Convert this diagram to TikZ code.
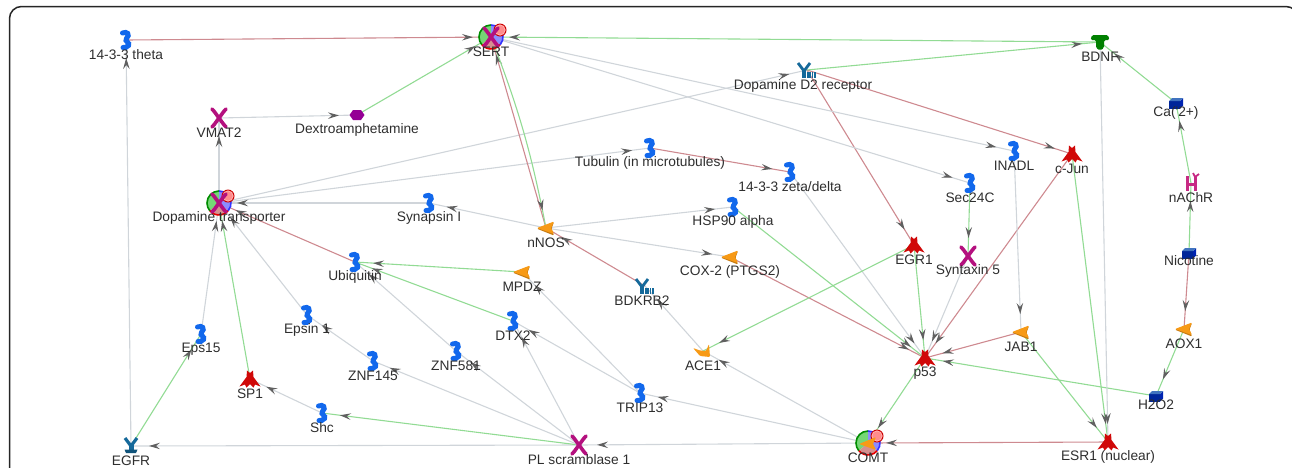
\documentclass[tikz,border=0pt]{standalone}
\usepackage{fontspec}
\setmainfont{Liberation Sans}
\usetikzlibrary{arrows.meta}
\usetikzlibrary{backgrounds}
\usetikzlibrary{decorations.markings}

\definecolor{protblue}{HTML}{1268EC}
\definecolor{tfred}{HTML}{D00808}
\definecolor{enzorange}{HTML}{F79A16}
\definecolor{transmag}{HTML}{B4107E}
\definecolor{receptal}{HTML}{15699A}
\definecolor{linegrey}{HTML}{D0D5DA}
\definecolor{linegreen}{HTML}{92DB94}
\definecolor{linered}{HTML}{CE8A90}
\definecolor{tipgrey}{HTML}{606060}

\newcommand{\compbase}{
    \fill[green!55!gray!70] (0,0) -- (270:12) arc[start angle=270, end angle=140, radius=12] -- cycle;
    \fill[red!45!gray!60] (0,0) -- (140:12) arc[start angle=140, end angle=40, radius=12] -- cycle;
    \fill[blue!45!white] (0,0) -- (40:12) arc[start angle=40, end angle=-90, radius=12] -- cycle;
    \draw[green!55!black, line width=1.6] (270:12) arc[start angle=270, end angle=140, radius=12];
    \draw[red!90!black, line width=1.6] (140:12) arc[start angle=140, end angle=40, radius=12];
    \draw[blue!80!white, line width=1.6] (40:12) arc[start angle=40, end angle=-90, radius=12];
}
\newcommand{\pinkdot}{
    \fill[red!80!black] (9,-7) circle (6.5);
    \fill[white!70!red] (9,-7) circle (5.6);
    \fill[red!45!white] (9,-7) circle (4.6);
}
\newcommand{\xshape}{
    \draw[transmag, line width=3.6, line cap=round] (-7,-9) .. controls (-3,-5) and (-2,-2) .. (0,0) .. controls (2,2) and (3,5) .. (7,9);
    \draw[transmag, line width=3.6, line cap=round] (7,-9) .. controls (3,-5) and (2,-2) .. (0,0) .. controls (-2,2) and (-3,5) .. (-7,9);
}

\tikzset{
    prot/.pic={\draw[protblue, line width=5, line cap=round] (-3.5,-7) .. controls (1,-9) and (4.5,-5.5) .. (0.5,-1.5) .. controls (-2,1.5) and (4.5,2.5) .. (2.5,5.5) .. controls (1,7.5) and (-1.5,8) .. (-3,7.5);},
    star/.pic={\fill[tfred] (-3,-8.5) -- (0,-6) -- (3,-8.5) -- (3.5,-2) -- (10.5,7.5) -- (5,5.5) -- (3.5,8.5) -- (0,5) -- (-3.5,8.5) -- (-5,5.5) -- (-10.5,7.5) -- (-3.5,-2) -- cycle;},
    enz/.pic={\fill[enzorange!80!black, rounded corners=1] (-9,0.7) -- (8,-6) -- (5.5,0.7) -- (8,7.5) -- cycle; \fill[enzorange, rounded corners=1] (-9,0) -- (8,-6.5) -- (5,0) -- (8,6) -- cycle;},
    enzb/.pic={\fill[enzorange, rounded corners=1] (-10,-3) -- (-3,-0.5) -- (3,0) -- (6,-7) -- (7,6) -- (-3,5) -- cycle;},
    trans/.pic={\xshape},
    hexa/.pic={\fill[violet!70!magenta!90!black] (-7.5,0) -- (-4,-5) -- (4,-5) -- (7.5,0) -- (4,5) -- (-4,5) -- cycle;},
    recep/.pic={\draw[receptal, line width=2.8] (-9,-7) -- (-3,1) -- (3,-7); \draw[receptal, line width=3.6] (-3,0) -- (-3,8);
        \draw[receptal, line width=1.7] (0.8,2) -- (0.8,8) (3.2,2) -- (3.2,8) (5.6,2) -- (5.6,8) (8,2) -- (8,8);},
    recepb/.pic={\draw[receptal, line width=3.2] (-6,-8) -- (0,0) -- (6,-8); \draw[receptal, line width=5] (0,-1) -- (0,5); \fill[receptal!80!black] (-6.5,3.5) -- (6.5,3.5) -- (5,7) -- (-5,7) -- cycle;},
    ligand/.pic={\fill[green!50!black, rounded corners=1.5] (-9.5,-2) -- (-8,-7) -- (8,-7) -- (9.5,-2) -- (4,-2) -- (4,6) -- (0,8.5) -- (-4,6) -- (-4,-2) -- cycle;},
    cube/.pic={\fill[blue!75!cyan!60!black] (-7,-2) rectangle (4,5.5); \fill[blue!80!cyan!70!black] (4,-2) -- (7,-5) -- (7,2.5) -- (4,5.5) -- cycle; \fill[blue!60!cyan!50!gray] (-7,-2) -- (-4,-5) -- (7,-5) -- (4,-2) -- cycle;},
    achr/.pic={\draw[magenta!60!violet, line width=3] (-4,-7) -- (-4,8) (4,-7) -- (4,8) (-4,1) -- (4,1); \draw[magenta!60!violet, line width=1.8] (4,-6) -- (8,-9) (4,-6) -- (2,-10);},
    sertpic/.pic={\compbase\pinkdot\xshape},
    comtpic/.pic={\compbase\pinkdot\fill[enzorange, rounded corners=1] (-9,1) -- (8,-6) -- (5,1) -- (8,7) -- cycle;},
    bio/.style={circle, minimum size=44, inner sep=0pt, path picture={\pic at (path picture bounding box.center) {#1};}},
    lab/.style={yshift=-15, font=\fontsize{13.75}{15}\selectfont, text=black!82, inner sep=0pt},
    tipped/.style={postaction={decorate}, decoration={markings, mark=at position -18pt with {\arrow[tipgrey]{Stealth[length=11pt,width=6.5pt,inset=4pt]}}}},
    gline/.style={draw=linegrey, line width=1.1, tipped},
    nline/.style={draw=linegreen, line width=1.1, tipped},
    rline/.style={draw=linered, line width=1.1, tipped},
}

\begin{document}
\begin{tikzpicture}[x=1pt, y=-1pt]
    \useasboundingbox (0,0) rectangle (1292,467);
    \clip (0,0) rectangle (1292,467);
    \draw[line width=1.5, black!85, rounded corners=12] (9.5,470) -- (9.5,6.5) -- (1298,6.5) -- (1298,470);

    % proteins
    \node[bio=prot, label={[lab]center:14-3-3 theta}] (theta) at (126,40) {};
    \node[bio=sertpic, label={[lab]center:SERT}] (sert) at (491,37) {};
    \node[bio=ligand, label={[lab]center:BDNF}] (bdnf) at (1100,42) {};
    \node[bio=recep, label={[lab,xshift=-4,yshift=-1]center:Dopamine D2 receptor}] (dtwo) at (807,70) {};
    \node[bio=trans, label={[lab]center:VMAT2}] (vmat) at (219,118) {};
    \node[bio=hexa, label={[lab]center:Dextroamphetamine}] (dextro) at (357,115) {};
    \node[bio=sertpic, label={[lab]center:Dopamine transporter}] (dat) at (219,203) {};
    \node[bio=prot, label={[lab]center:Synapsin I}] (synapsin) at (429,203) {};
    \node[bio=prot, label={[lab]center:Tubulin (in microtubules)}] (tubulin) at (650,148) {};
    \node[bio=prot, label={[lab]center:14-3-3 zeta/delta}] (zeta) at (790,172) {};
    \node[bio=prot, label={[lab]center:HSP90 alpha}] (hsp) at (733,207) {};
    \node[bio=enz, label={[lab]center:nNOS}] (nnos) at (546,228) {};
    \node[bio=prot, label={[lab]center:INADL}] (inadl) at (1014,151) {};
    \node[bio=star, label={[lab]center:c-Jun}] (cjun) at (1072,154) {};
    \node[bio=prot, label={[lab]center:Sec24C}] (sec) at (970,183) {};
    \node[bio=cube, label={[lab,yshift=5]center:Ca(\textquotesingle 2+)}] (ca) at (1176,103) {};
    \node[bio=achr, label={[lab]center:nAChR}] (achr) at (1191,183) {};
    \node[bio=cube, label={[lab,yshift=7]center:Nicotine}] (nicotine) at (1189,253) {};
    \node[bio=enz, label={[lab]center:AOX1}] (aox) at (1184,329) {};
    \node[bio=cube, label={[lab,yshift=6]center:H2O2}] (hoo) at (1156,396) {};
    \node[bio=enz, label={[lab]center:JAB1}] (jab) at (1021,332) {};
    \node[bio=star, label={[lab]center:ESR1 (nuclear)}] (esr) at (1108,442) {};
    \node[bio=star, label={[lab]center:p53}] (pfiftythree) at (925,358) {};
    \node[bio=trans, label={[lab]center:Syntaxin 5}] (syntaxin) at (968,256) {};
    \node[bio=star, label={[lab]center:EGR1}] (egr) at (914,245) {};
    \node[bio=enz, label={[lab]center:COX-2 (PTGS2)}] (cox) at (730,257) {};
    \node[bio=recep, label={[lab,xshift=-3]center:BDKRB2}] (bdkrb) at (645,286) {};
    \node[bio=enz, label={[lab]center:MPDZ}] (mpdz) at (522,272) {};
    \node[bio=prot, label={[lab]center:DTX2}] (dtx) at (513,321) {};
    \node[bio=enzb, label={[lab]center:ACE1}] (ace) at (703,351) {};
    \node[bio=prot, label={[lab]center:TRIP13}] (trip) at (640,393) {};
    \node[bio=trans, label={[lab]center:PL scramblase 1}] (plscr) at (579,445) {};
    \node[bio=comtpic, label={[lab]center:COMT}] (comt) at (868,443) {};
    \node[bio=prot, label={[lab]center:Ubiquitin}] (ubi) at (355,262) {};
    \node[bio=prot, label={[lab]center:Epsin 1}] (epsin) at (307,315) {};
    \node[bio=prot, label={[lab]center:Eps15}] (eps) at (201,334) {};
    \node[bio=prot, label={[lab]center:ZNF145}] (znfa) at (373,361) {};
    \node[bio=prot, label={[lab]center:ZNF581}] (znfb) at (456,351) {};
    \node[bio=star, label={[lab]center:SP1}] (spone) at (250,379) {};
    \node[bio=prot, label={[lab]center:Shc}] (shc) at (322,413) {};
    \node[bio=recepb, label={[lab]center:EGFR}] (egfr) at (131,446) {};

    % links
    \begin{scope}[on background layer]
        \draw[rline] (theta.center) -- (sert.center);
        \draw[gline] (egfr.center) -- (theta.center);
        \draw[nline] (dextro.center) -- (sert.center);
        \draw[gline] (vmat.center) -- (dextro.center);
        \draw[gline] (dat.center) -- (vmat.center);
        \draw[gline] (dat.center) -- (dtwo.center);
        \draw[gline] (dat.center) -- (tubulin.center);
        \draw[gline] (synapsin.center) -- (dat.center);
        \draw[gline] (nnos.center) -- (synapsin.center);
        \draw[rline] (ubi.center) -- (dat.center);
        \draw[gline] (epsin.center) -- (dat.center);
        \draw[gline] (eps.center) -- (dat.center);
        \draw[nline] (spone.center) -- (dat.center);
        \draw[nline] (egfr.center) -- (eps.center);
        \draw[gline] (plscr.center) -- (egfr.center);
        \draw[gline] (shc.center) -- (spone.center);
        \draw[nline] (plscr.center) -- (shc.center);
        \draw[gline] (znfa.center) -- (epsin.center);
        \draw[gline] (plscr.center) -- (znfa.center);
        \draw[gline] (znfb.center) -- (ubi.center);
        \draw[gline] (plscr.center) -- (znfb.center);
        \draw[nline] (mpdz.center) -- (ubi.center);
        \draw[nline] (dtx.center) -- (ubi.center);
        \draw[gline] (trip.center) -- (mpdz.center);
        \draw[gline] (trip.center) -- (dtx.center);
        \draw[gline] (plscr.center) -- (dtx.center);
        \draw[gline] (comt.center) -- (trip.center);
        \draw[gline] (comt.center) -- (ace.center);
        \draw[gline] (comt.center) -- (plscr.center);
        \draw[rline] (esr.center) -- (comt.center);
        \draw[nline] (pfiftythree.center) -- (comt.center);
        \draw[gline] (ace.center) -- (bdkrb.center);
        \draw[rline] (bdkrb.center) -- (nnos.center);
        \draw[rline] (nnos.center) -- (sert.center);
        \draw[nline] (sert.center) to[bend left=5] (nnos.center);
        \draw[gline] (nnos.center) -- (hsp.center);
        \draw[gline] (nnos.center) -- (cox.center);
        \draw[rline] (cox.center) -- (pfiftythree.center);
        \draw[nline] (hsp.center) -- (pfiftythree.center);
        \draw[gline] (zeta.center) -- (pfiftythree.center);
        \draw[nline] (egr.center) -- (pfiftythree.center);
        \draw[gline] (syntaxin.center) -- (pfiftythree.center);
        \draw[rline] (cjun.center) -- (pfiftythree.center);
        \draw[rline] (jab.center) -- (pfiftythree.center);
        \draw[nline] (hoo.center) -- (pfiftythree.center);
        \draw[nline] (egr.center) -- (ace.center);
        \draw[rline] (dtwo.center) -- (egr.center);
        \draw[rline] (dtwo.center) -- (cjun.center);
        \draw[nline] (dtwo.center) -- (bdnf.center);
        \draw[nline] (bdnf.center) -- (sert.center);
        \draw[gline] (sert.center) -- (inadl.center);
        \draw[gline] (sert.center) -- (sec.center);
        \draw[nline] (sec.center) -- (syntaxin.center);
        \draw[gline] (inadl.center) -- (jab.center);
        \draw[rline] (tubulin.center) -- (zeta.center);
        \draw[nline] (cjun.center) -- (esr.center);
        \draw[gline] (bdnf.center) -- (esr.center);
        \draw[nline] (jab.center) -- (esr.center);
        \draw[nline] (ca.center) -- (bdnf.center);
        \draw[nline] (achr.center) -- (ca.center);
        \draw[nline] (nicotine.center) -- (achr.center);
        \draw[rline] (nicotine.center) -- (aox.center);
        \draw[nline] (aox.center) -- (hoo.center);
    \end{scope}
\end{tikzpicture}
\end{document}
